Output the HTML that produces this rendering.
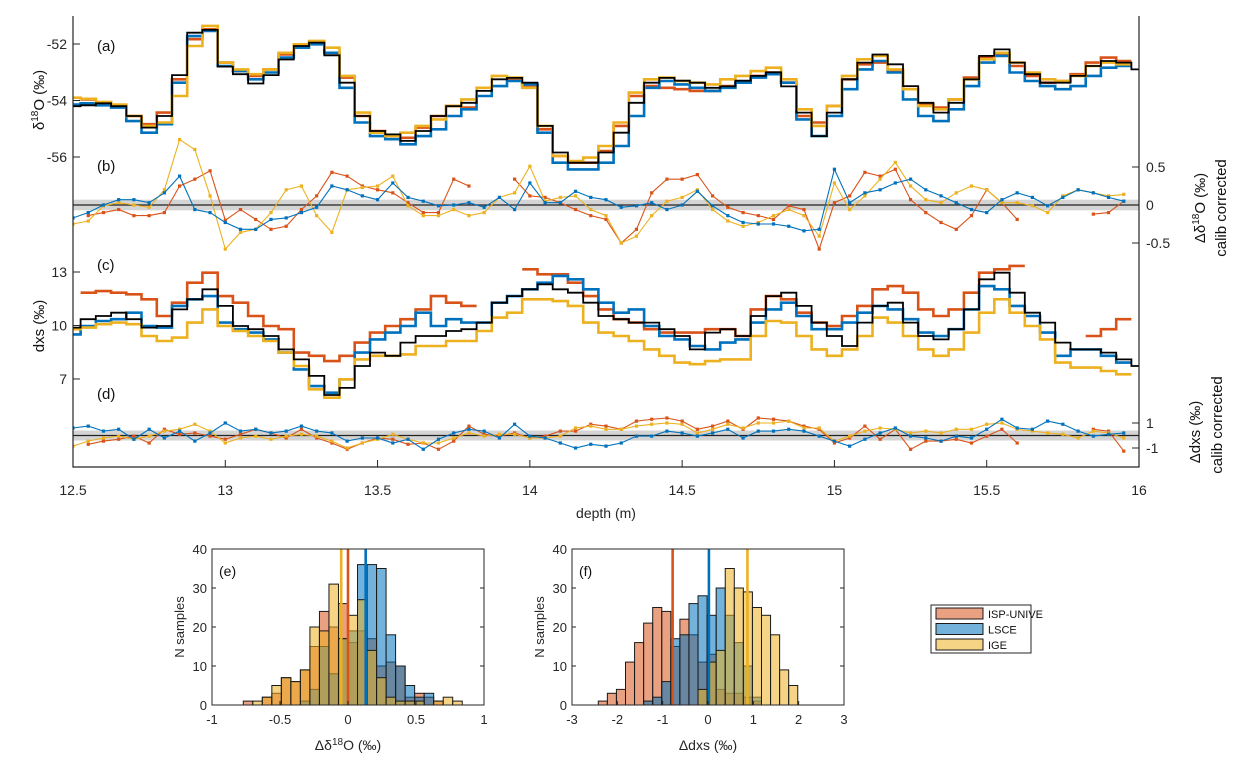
<!DOCTYPE html>
<html><head><meta charset="utf-8"><style>
body{margin:0;background:#fff;}
svg{display:block;font-family:"Liberation Sans",sans-serif;}
</style></head><body>
<svg id="fig" width="1246" height="769" viewBox="0 0 1246 769">
<defs><clipPath id="plotclip"><rect x="73" y="10" width="1066" height="457"/></clipPath></defs>
</svg>
<script>
// ---------- data ----------
const depthStart = 12.5, depthStep = 0.05;
const aBlack = [-54.2,-54.17,-54.1,-54.2,-54.55,-54.96,-54.55,-53.1,-51.6,-51.5,-52.8,-53.07,-53.4,-53.1,-52.55,-52.07,-51.95,-52.4,-53.37,-54.55,-55.08,-55.2,-55.43,-55.08,
-54.55,-54.2,-54.08,-53.66,-53.25,-53.2,-53.37,-54.9,-55.84,-56.2,-56.2,-55.84,-55.14,-54.08,-53.37,-53.2,-53.3,-53.37,-53.55,-53.5,-53.3,-53.13,-53.0,
-53.5,-54.43,-55.26,-54.43,-53.25,-52.66,-52.37,-52.72,-53.49,-54.08,-54.43,-54.08,-53.25,-52.42,-52.19,-52.66,-53.07,-53.37,-53.37,-53.13,-52.78,-52.6,-52.66,-52.9];
const aYellow = [-53.9,-53.94,-54.05,-54.14,-54.55,-54.9,-54.78,-53.84,-52.07,-51.36,-52.66,-52.9,-53.07,-52.9,-52.31,-52.01,-51.89,-52.13,-53.13,-54.43,-55.14,-55.26,-55.14,-54.9,
-54.67,-54.19,-53.96,-53.55,-53.13,-53.19,-53.55,-54.9,-55.96,-56.14,-56.02,-55.61,-54.78,-53.72,-53.25,-53.19,-53.31,-53.37,-53.43,-53.25,-53.13,-52.96,-52.84,
-53.25,-54.31,-54.9,-54.19,-53.13,-52.54,-52.42,-52.9,-53.6,-54.19,-54.31,-53.96,-53.25,-52.54,-52.31,-52.66,-53.01,-53.25,-53.31,-53.13,-52.78,-52.66,-52.72,null];
const aOrange = [null,-53.96,-54.08,-54.17,-54.55,-54.84,-54.43,-53.25,-51.83,-51.48,-52.66,-52.96,-53.13,-52.9,-52.37,-52.07,-51.95,-52.31,-53.19,-54.55,-55.08,-55.26,-55.32,-54.96,
-54.55,-54.19,-54.25,null,null,-53.25,-53.49,-55.02,-55.96,-56.2,-56.2,-55.79,-54.9,-53.84,-53.49,-53.55,-53.6,-53.66,-53.66,-53.49,-53.37,-53.13,-53.01,
-53.37,-54.55,-54.78,-54.19,-53.25,-52.72,-52.66,-52.96,-53.6,-54.14,-54.25,-53.96,-53.19,-52.48,-52.37,-52.78,-53.13,-53.37,-53.31,-53.07,-52.66,-52.48,-52.6,null];
const aBlue = [-54.14,-54.1,-54.17,-54.25,-54.73,-55.14,-54.84,-53.37,-51.72,-51.54,-52.78,-52.96,-53.25,-53.01,-52.48,-52.13,-52.01,-52.31,-53.55,-54.78,-55.26,-55.37,-55.55,-55.26,
-55.02,-54.55,-54.31,-53.84,-53.49,-53.31,-53.43,-55.14,-56.2,-56.44,-56.44,-56.2,-55.61,-54.55,-53.55,-53.31,-53.43,-53.55,-53.66,-53.55,-53.37,-53.19,-53.07,
-53.37,-54.67,-55.26,-54.55,-53.6,-52.9,-52.6,-53.01,-53.96,-54.55,-54.73,-54.31,-53.49,-52.66,-52.42,-53.01,-53.31,-53.49,-53.6,-53.49,-53.13,-52.84,-52.78,null];

const bYellow = [-0.25,-0.21,-0.01,0.03,0,-0.03,0.2,0.86,0.73,0.12,-0.58,-0.36,-0.32,-0.1,0.2,0.25,-0.14,-0.36,0.2,0.23,0.25,0.38,-0.01,-0.14,
-0.14,-0.06,-0.14,-0.1,0.1,0.16,0.51,0.05,0.1,0.12,-0.06,-0.14,-0.5,-0.41,-0.14,0.05,0.1,0.2,-0.06,-0.21,-0.28,-0.23,-0.14,
-0.06,-0.14,-0.41,0.29,-0.06,0.12,0.34,0.56,0.25,0.07,0.03,0.16,0.25,0.2,0.03,0.03,-0.01,-0.1,0.12,0.2,0.16,0.12,0.14,null];
const bOrange = [null,-0.14,-0.1,-0.06,-0.14,-0.14,-0.1,0.25,0.34,0.45,-0.2,-0.06,-0.19,-0.32,-0.28,-0.06,0.12,0.43,0.38,0.25,0.2,0.16,0.03,-0.1,
-0.1,0.34,0.25,null,null,0.34,0.12,0.1,0.03,-0.06,-0.14,-0.19,-0.5,-0.32,0.16,0.34,0.34,0.4,0.12,-0.03,-0.1,-0.14,-0.19,
-0.01,-0.06,-0.58,0.03,0.12,0.43,0.38,0.47,0.07,-0.1,-0.23,-0.32,-0.14,0.2,0.03,-0.19,null,null,null,null,-0.12,-0.1,0.05,null];
const bBlue = [-0.17,-0.1,0,0.07,0.07,0.03,0.16,0.38,-0.06,-0.1,-0.23,-0.32,-0.32,-0.19,-0.17,-0.1,-0.03,0.25,0.2,0.12,0.07,0.29,0.1,0.05,
-0.01,0,0.03,-0.03,0.1,-0.06,0.29,0.03,0.03,0.18,0.1,0.07,-0.03,-0.01,0.03,-0.06,0,0.18,-0.01,-0.14,-0.23,-0.25,-0.25,
-0.28,-0.34,-0.32,0.47,0.03,0.16,0.2,0.29,0.34,0.2,0.12,0.03,-0.06,-0.1,0.07,0.16,0.1,-0.01,0.1,0.2,0.16,0.1,0.05,null];

const cBlack = [9.88,10.35,10.53,10.72,10.35,9.88,9.97,10.9,11.47,12.03,11.1,9.97,9.79,9.41,8.66,8.1,7.17,6.1,6.5,7.73,8.48,8.3,9.04,9.41,
9.41,9.69,9.79,10.16,11.28,11.65,12.03,12.31,12.03,11.84,11.28,10.53,10.35,10.16,10.16,9.79,9.41,8.66,9.6,9.79,9.41,10.53,11.65,
11.84,11.1,10.16,9.41,8.85,10.16,11.1,11.28,10.16,9.41,9.22,9.79,10.9,12.59,12.96,11.84,10.72,10.16,9.04,8.66,8.66,8.48,8.1,7.73];
const cOrange = [null,11.84,11.93,11.84,11.75,11.47,10.53,11.28,12.4,12.96,11.65,11.28,10.53,9.97,9.79,8.48,8.3,8.0,8.3,9.04,9.6,9.97,10.35,10.9,
11.65,11.28,11.1,null,null,null,13.15,12.87,12.87,12.4,11.65,10.9,10.35,10.16,9.79,9.6,9.6,9.6,9.79,9.79,9.41,10.9,11.65,
11.47,10.72,10.16,9.97,10.53,11.1,12.03,12.21,11.84,10.9,10.53,10.9,11.84,12.96,13.15,13.34,null,null,null,null,9.41,9.79,10.35,null];
const cBlue = [9.5,9.97,10.25,10.35,10.72,9.97,9.88,11.1,11.47,11.65,10.16,9.79,9.6,9.22,8.48,7.54,6.6,6.23,6.98,8.48,9.22,9.6,9.97,10.72,
9.97,10.35,10.16,10.16,11.28,11.65,12.03,12.4,12.78,12.59,12.03,11.28,10.72,10.9,9.97,9.41,9.22,8.85,8.66,9.04,9.22,10.16,10.9,
11.28,10.53,9.79,9.79,10.16,10.72,11.1,10.9,10.35,9.6,9.41,9.79,10.9,12.21,12.03,11.1,10.53,9.6,8.3,8.66,8.66,8.3,7.92,null];
const cYellow = [9.79,9.88,10.07,10.16,10.07,9.41,9.13,9.32,10.16,10.9,9.97,9.69,9.41,9.13,8.48,7.73,6.42,5.95,6.98,8.1,8.3,8.3,8.38,8.85,
8.85,9.13,9.13,9.69,10.44,10.72,11.47,11.47,11.37,11.1,10.16,9.6,9.41,9.13,8.66,8.3,7.92,7.83,8.0,8.1,8.1,9.41,10.25,
10.16,9.41,8.66,8.3,8.66,9.41,10.44,10.16,9.41,8.66,8.3,8.66,9.6,10.72,11.47,10.72,9.97,9.22,7.92,7.64,7.64,7.45,7.26,null];

const dBlue = [0.6,0.75,0.35,0.5,-0.3,0.5,-0.2,0.35,-0.45,0.2,1.0,0.35,0.5,0.2,0.35,0.75,0.35,0.2,-0.45,-0.2,-0.2,-0.6,-0.3,-1.1,
-0.3,0.2,0.5,0.35,-0.2,0.9,-0.05,-0.2,-0.6,-1.0,-0.7,-0.85,-0.6,-0.05,-0.05,0.35,0.2,-0.05,0.2,0.5,-0.2,0.35,0.35,
0.5,0.35,-0.05,-0.45,-0.85,-0.3,0.2,0.6,-0.05,-0.2,-0.45,-0.05,-0.2,0.5,1.3,0.6,0.5,1.15,0.9,0.35,-0.05,0.1,0.2,null];
const dOrange = [null,-0.7,-0.45,-0.3,-0.05,-0.6,0.5,0.1,0.2,-0.05,-0.3,0.1,0.5,0.2,-0.2,0.5,-0.2,-0.6,-1.1,-0.6,-0.2,-0.3,-0.7,-0.6,
-1.1,-0.45,0.75,0.1,-0.05,0.2,-0.2,-0.05,0.35,0.35,0.9,0.75,0.5,1.15,1.3,1.4,1.15,0.5,0.75,1.15,0.5,1.4,1.3,
1.15,0.75,0.5,-0.6,-0.2,0.75,-0.3,0.5,-1.1,-0.45,-0.45,-0.3,-0.6,-0.05,0.5,-0.6,null,null,null,null,0.5,0.35,-1.25,null];
const dYellow = [-0.85,-0.45,-0.2,-0.05,-0.3,-0.05,0.35,0.5,0.9,0.35,-0.6,-0.2,-0.05,-0.3,-0.05,0.1,-0.05,-0.45,-1.0,-0.6,-0.3,0.1,-0.3,-0.6,
-0.6,-0.2,0.2,-0.05,0.1,0.1,-0.2,-0.2,-0.05,0.6,0.75,0.5,0.5,0.75,0.9,1.0,0.9,0.2,0.5,0.9,0.6,1.0,1.0,
1.15,0.6,0.6,-0.45,-0.05,0.35,0.6,0.5,0.2,0.35,0.2,0.5,0.5,0.9,1.0,0.5,0.35,0.2,0.1,-0.2,0.35,0.2,-0.2,null];

const xTicks = [12.5,13,13.5,14,14.5,15,15.5,16];
const aTicks = [-52,-54,-56];
const bTicks = [0.5,0,-0.5];
const cTicks = [13,10,7];
const dTicks = [1,-1];

// histograms
const eStart = -0.77, eWidth = 0.07;
const eOrange = [1,0,2,3,7,6,9,15,24,20,26,16,19,17,10,11,10,2,3,2,1,0,0];
const eBlue   = [0,0,0,0,0,0,1,4,15,8,17,19,36,36,35,18,10,5,2,3,0,0,0];
const eYellow = [0,1,2,5,7,6,9,20,19,31,17,23,27,14,7,2,1,1,1,0,1,2,1];
const eMeans = [0.0, 0.13, -0.05];
const fStart = -2.42, fWidth = 0.2;
const fOrange = [1,3,4,11,16,21,25,24,15,22,18,11,13,4,3,3,2,1,0,0,0,0];
const fBlue   = [0,0,0,0,0,1,2,6,17,18,26,28,23,30,23,16,10,2,0,0,0,0];
const fYellow = [0,0,0,0,0,0,0,0,0,0,0,4,11,14,35,30,29,25,23,18,9,5];
const fMeans = [-0.78, 0.02, 0.87];
const legendLabels = ["ISP-UNIVE","LSCE","IGE"];

// ---------- helpers ----------
const NS="http://www.w3.org/2000/svg";
const svg=document.getElementById('fig');
const COL={o:"#D95319",b:"#0072BD",y:"#EDB120",k:"#000000"};
const TXT="#262626";
function mk(tag,attrs,parent){const e=document.createElementNS(NS,tag);for(const k in attrs)e.setAttribute(k,attrs[k]);(parent||svg).appendChild(e);return e;}
const X=d=>73+(d-12.5)*304.57;
const Ya=v=>44+(-52-v)*28.25;
const Yb=v=>205-v*76;
const Yc=v=>272+(13-v)*17.83;
const Yd=v=>435.5-v*12.5;
const depth=i=>depthStart+i*depthStep;

const plot=mk('g',{"clip-path":"url(#plotclip)"});



function stairs(arr,Y,color,w,name){
  let d="",pen=false;
  arr.forEach((v,i)=>{
    if(v===null){pen=false;return;}
    const x0=X(depth(i)-depthStep/2),x1=X(depth(i)+depthStep/2),y=Y(v);
    d+=(pen?"L":"M")+x0.toFixed(1)+" "+y.toFixed(1)+"L"+x1.toFixed(1)+" "+y.toFixed(1);
    pen=true;
  });
  const p=mk('path',{d:d,fill:"none",stroke:color,"stroke-width":w,"stroke-linejoin":"miter"},plot);
  
  
}
function dotted(arr,Y,color,name){
  const g=mk('g',{},plot);
  
  
  let d="",pen=false;
  arr.forEach((v,i)=>{
    if(v===null){pen=false;return;}
    d+=(pen?"L":"M")+X(depth(i)).toFixed(1)+" "+Y(v).toFixed(1);pen=true;
  });
  mk('path',{d:d,fill:"none",stroke:color,"stroke-width":1.1},g);
  arr.forEach((v,i)=>{
    if(v===null)return;
    const r=mk('rect',{x:X(depth(i))-1.6,y:Y(v)-1.6,width:3.2,height:3.2,fill:color},g);
    
    
  });
}
function text(x,y,s,attrs,name){
  const t=mk('text',Object.assign({x:x,y:y,fill:TXT,"font-size":14},attrs||{}));
  t.textContent=s;
  
  
  return t;
}

// ---------- main panel ----------
const bandB=mk('rect',{x:73,y:Yb(0.07),width:1066,height:Yb(-0.07)-Yb(0.07),fill:"#d4d4d4"},plot);


const zeroB=mk('line',{x1:73,x2:1139,y1:Yb(0),y2:Yb(0),stroke:"#222","stroke-width":1.2},plot);


const bandD=mk('rect',{x:73,y:Yd(0.4),width:1066,height:Yd(-0.4)-Yd(0.4),fill:"#d4d4d4"},plot);


const zeroD=mk('line',{x1:73,x2:1139,y1:Yd(0),y2:Yd(0),stroke:"#222","stroke-width":1.2},plot);



stairs(aOrange,Ya,COL.o,2.6,'a-isp-unive-line');
stairs(aBlue,Ya,COL.b,2.6,'a-lsce-line');
stairs(aYellow,Ya,COL.y,2.6,'a-ige-line');
stairs(aBlack,Ya,COL.k,1.8,'a-reference-line');
dotted(bOrange,Yb,COL.o,'b-isp-unive-series');
dotted(bYellow,Yb,COL.y,'b-ige-series');
dotted(bBlue,Yb,COL.b,'b-lsce-series');
stairs(cOrange,Yc,COL.o,2.6,'c-isp-unive-line');
stairs(cBlue,Yc,COL.b,2.6,'c-lsce-line');
stairs(cYellow,Yc,COL.y,2.6,'c-ige-line');
stairs(cBlack,Yc,COL.k,1.8,'c-reference-line');
dotted(dOrange,Yd,COL.o,'d-isp-unive-series');
dotted(dYellow,Yd,COL.y,'d-ige-series');
dotted(dBlue,Yd,COL.b,'d-lsce-series');

// axes
const axes=mk('path',{d:"M73 16V467H1139V16",fill:"none",stroke:"#262626","stroke-width":1.2});


xTicks.forEach(t=>{
  const l=mk('line',{x1:X(t),x2:X(t),y1:467,y2:460,stroke:"#262626"});
  
  
  text(X(t),495,String(t),{"text-anchor":"middle"},'x-tick-label');
});
[[aTicks,Ya],[cTicks,Yc]].forEach(([ts,Y])=>ts.forEach(t=>{
  const l=mk('line',{x1:73,x2:80,y1:Y(t),y2:Y(t),stroke:"#262626"});
  
  
  text(67,Y(t)+5,String(t),{"text-anchor":"end"},'left-y-tick-label');
}));
[[bTicks,Yb],[dTicks,Yd]].forEach(([ts,Y])=>ts.forEach(t=>{
  const l=mk('line',{x1:1132,x2:1139,y1:Y(t),y2:Y(t),stroke:"#262626"});
  
  
  text(1146,Y(t)+5,String(t),{"text-anchor":"start"},'right-y-tick-label');
}));
text(606,518,"depth (m)",{"text-anchor":"middle"},'x-axis-title');
[["(a)",46],["(b)",166],["(c)",265],["(d)",394]].forEach(([s,y])=>text(97,y+5,s,{"font-size":15,fill:"#111"},'panel-label'));

function vlabel(x,y,html,name,size){
  const t=mk('text',{x:0,y:0,fill:"#111","font-size":size||15,"text-anchor":"middle",transform:`translate(${x},${y}) rotate(-90)`});
  t.innerHTML=html;
  
  
}
vlabel(44,100,'δ<tspan dy="-6" font-size="10">18</tspan><tspan dy="6">O (‰)</tspan>','a-y-axis-title');
vlabel(44,326,'dxs (‰)','c-y-axis-title');
vlabel(1205,208,'Δδ<tspan dy="-6" font-size="10">18</tspan><tspan dy="6">O (‰)</tspan>','b-y-axis-title');
vlabel(1226,208,'calib corrected','b-y-axis-subtitle');
vlabel(1200,432,'Δdxs (‰)','d-y-axis-title');
vlabel(1222,425,'calib corrected','d-y-axis-subtitle');

// ---------- histograms ----------
function hist(opt){
  const {x0,x1,xmin,xmax,xticks,start,width,series,means,label,title,name}=opt;
  const y0=705,y1=549;
  const XH=v=>x0+(v-xmin)/(xmax-xmin)*(x1-x0);
  const YH=n=>y0-n*(y0-y1)/40;
  const g=mk('g',{});
  
  
  series.forEach(([arr,col,sname])=>{
    arr.forEach((n,i)=>{
      if(n<=0)return;
      const r=mk('rect',{x:XH(start+i*width),y:YH(n),width:XH(start+(i+1)*width)-XH(start+i*width),height:y0-YH(n),fill:col,"fill-opacity":0.55,stroke:"#1a1a1a","stroke-width":1},g);
      
      
    });
  });
  means.forEach((m,i)=>{
    const l=mk('line',{x1:XH(m),x2:XH(m),y1:y1,y2:y0,stroke:series[i][1],"stroke-width":2.6},g);
    
    
  });
  const fr=mk('rect',{x:x0,y:y1,width:x1-x0,height:y0-y1,fill:"none",stroke:"#262626","stroke-width":1},g);
  
  
  [0,10,20,30,40].forEach(t=>{
    const a=mk('line',{x1:x0,x2:x0+4,y1:YH(t),y2:YH(t),stroke:"#262626"},g);
    
    
    const b=mk('line',{x1:x1,x2:x1-4,y1:YH(t),y2:YH(t),stroke:"#262626"},g);
    
    
    text(x0-5,YH(t)+5,String(t),{"text-anchor":"end","font-size":13},'hist-y-tick-label');
  });
  xticks.forEach(t=>{
    const a=mk('line',{x1:XH(t),x2:XH(t),y1:y0,y2:y0-4,stroke:"#262626"},g);
    
    
    text(XH(t),724,String(t),{"text-anchor":"middle","font-size":13},'hist-x-tick-label');
  });
  text(x0+7,576,label,{"font-size":14,fill:"#111"},'panel-label');
  const tt=mk('text',{x:(x0+x1)/2,y:750,fill:TXT,"font-size":14,"text-anchor":"middle"});
  tt.innerHTML=title;
  
  
  const yt=mk('text',{x:0,y:0,fill:TXT,"font-size":13,"text-anchor":"middle",transform:`translate(${x0-28},627) rotate(-90)`});
  yt.textContent="N samples";
  
  
}
hist({x0:212,x1:484,xmin:-1,xmax:1,xticks:[-1,-0.5,0,0.5,1],start:eStart,width:eWidth,
  series:[[eOrange,COL.o,'isp-unive'],[eBlue,COL.b,'lsce'],[eYellow,COL.y,'ige']],means:eMeans,
  label:"(e)",title:'Δδ<tspan dy="-5" font-size="10">18</tspan><tspan dy="5">O (‰)</tspan>',name:'histogram-e'});
hist({x0:572,x1:844,xmin:-3,xmax:3,xticks:[-3,-2,-1,0,1,2,3],start:fStart,width:fWidth,
  series:[[fOrange,COL.o,'isp-unive'],[fBlue,COL.b,'lsce'],[fYellow,COL.y,'ige']],means:fMeans,
  label:"(f)",title:'Δdxs (‰)',name:'histogram-f'});

// ---------- legend ----------
const lg=mk('g',{});


const lb=mk('rect',{x:931,y:605,width:100,height:48,fill:"#fff",stroke:"#262626","stroke-width":1},lg);


[COL.o,COL.b,COL.y].forEach((c,i)=>{
  const y=608+i*15.5;
  const r=mk('rect',{x:936,y:y,width:47,height:11,fill:c,"fill-opacity":0.55,stroke:"#1a1a1a"},lg);
  
  
  text(988,y+10,legendLabels[i],{"font-size":11,fill:"#111"},'legend-entry');
});
</script>
</body></html>
